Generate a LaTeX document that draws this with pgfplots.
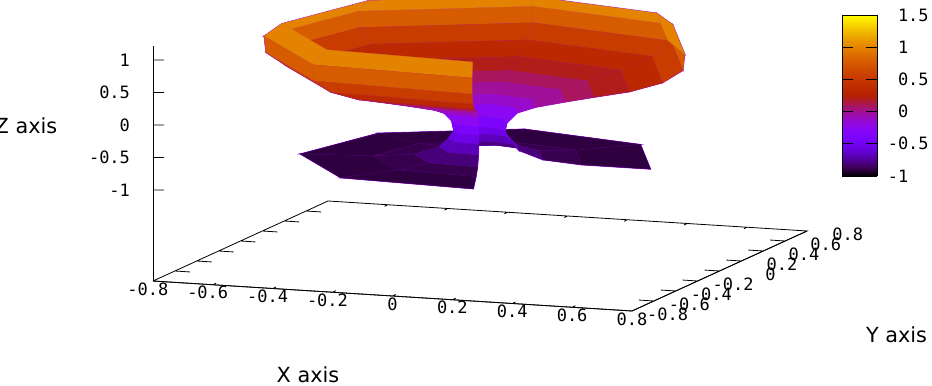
\documentclass[border=0pt]{standalone}
\usepackage{pgfplots}
\usepackage{fontspec}
\pgfplotsset{compat=1.18}
\setmainfont{DejaVu Sans}
\newfontfamily\tickfont{DejaVu Sans Mono}
\pgfplotsset{
  colormap={gp}{rgb=(0,0,0) rgb=(.2236,.0001,.3090) rgb=(.3162,.001,.5878) rgb=(.3873,.0034,.8090)
    rgb=(.4472,.008,.9511) rgb=(.5,.0156,1) rgb=(.5477,.027,.9511) rgb=(.5916,.0429,.8090)
    rgb=(.6325,.064,.5878) rgb=(.6708,.0911,.3090) rgb=(.7071,.125,0) rgb=(.7416,.1664,0)
    rgb=(.7746,.216,0) rgb=(.8062,.2746,0) rgb=(.8367,.343,0) rgb=(.8660,.4219,0)
    rgb=(.8944,.512,0) rgb=(.9220,.6141,0) rgb=(.9487,.729,0) rgb=(.9747,.8574,0) rgb=(1,1,0)},
}
\definecolor{edgeviolet}{RGB}{165,20,255}
\pgfplotstableread{
x y z
.627 0 1.10
.4195 .4659 1.10
-.0655 .6236 1.10
-.5072 .3685 1.10
-.6133 -.1304 1.10
-.3135 -.5430 1.10
.1937 -.5963 1.10
.684 0 .90
.4577 .5083 .90
-.0715 .6802 .90
-.5534 .4021 .90
-.6690 -.1422 .90
-.342 -.5923 .90
.2114 -.6506 .90
.678 0 .65
.4536 .5038 .65
-.0709 .6743 .65
-.5485 .3985 .65
-.6632 -.1410 .65
-.339 -.5871 .65
.2095 -.6448 .65
.61 0 .44
.4082 .4533 .44
-.0637 .6066 .44
-.4935 .3586 .44
-.5966 -.1268 .44
-.305 -.5283 .44
.1885 -.5802 .44
.5 0 .27
.3346 .3716 .27
-.0523 .4973 .27
-.4045 .2939 .27
-.4891 -.1040 .27
-.25 -.4330 .27
.1545 -.4756 .27
.38 0 .15
.2543 .2824 .15
-.0397 .3779 .15
-.3074 .2234 .15
-.3717 -.0790 .15
-.19 -.3291 .15
.1174 -.3614 .15
.284 0 .05
.1900 .2110 .05
-.0297 .2824 .05
-.2298 .1669 .05
-.2778 -.0590 .05
-.142 -.2459 .05
.0878 -.2701 .05
.185 0 -.06
.1238 .1375 -.06
-.0193 .1840 -.06
-.1497 .1087 -.06
-.1809 -.0385 -.06
-.0925 -.1602 -.06
.0572 -.1760 -.06
.124 0 -.165
.0830 .0921 -.165
-.0130 .1233 -.165
-.1003 .0729 -.165
-.1213 -.0258 -.165
-.062 -.1074 -.165
.0383 -.1179 -.165
.09 0 -.33
.0602 .0669 -.33
-.0094 .0895 -.33
-.0728 .0529 -.33
-.0880 -.0187 -.33
-.045 -.0779 -.33
.0278 -.0856 -.33
.083 0 -.48
.0555 .0617 -.48
-.0087 .0825 -.48
-.0671 .0488 -.48
-.0812 -.0173 -.48
-.0415 -.0719 -.48
.0256 -.0789 -.48
.1 0 -.60
.0669 .0743 -.60
-.0105 .0995 -.60
-.0809 .0588 -.60
-.0978 -.0208 -.60
-.05 -.0866 -.60
.0309 -.0951 -.60
.13 0 -.74
.0870 .0966 -.74
-.0136 .1293 -.74
-.1052 .0764 -.74
-.1272 -.0270 -.74
-.065 -.1126 -.74
.0402 -.1236 -.74
.21 0 -.86
.1405 .1561 -.86
-.0219 .2088 -.86
-.1699 .1234 -.86
-.2054 -.0437 -.86
-.105 -.1819 -.86
.0649 -.1997 -.86
.34 0 -.90
.2275 .2527 -.90
-.0355 .3381 -.90
-.2751 .1999 -.90
-.3326 -.0707 -.90
-.17 -.2944 -.90
.1051 -.3234 -.90
.57 0 -.90
.3814 .4236 -.90
-.0596 .5669 -.90
-.4611 .3350 -.90
-.5575 -.1185 -.90
-.285 -.4936 -.90
.1761 -.5421 -.90
}\surfacedata
\begin{document}
\begin{tikzpicture}
\useasboundingbox (0,0) rectangle (932bp,386bp);
\clip (0,0) rectangle (932bp,386bp);
\begin{axis}[
  at={(480bp,286bp)},anchor=origin,
  x={(299.4bp,-18.75bp)},y={(109.4bp,50bp)},z={(0bp,65bp)},
  xmin=-.8,xmax=.8,ymin=-.8,ymax=.8,zmin=-2.4,zmax=1.215,
  clip=false,
  axis x line*=bottom,axis y line*=left,axis z line*=left,
  axis line style={black,line width=.8bp,-},
  xtick={-.8,-.6,-.4,-.2,0,.2,.4,.6,.8},
  ytick={-.8,-.6,-.4,-.2,0,.2,.4,.6,.8},
  ztick={-1,-.5,0,.5,1},
  xticklabels={\llap{-}0.8,\llap{-}0.6,\llap{-}0.4,\llap{-}0.2,0,0.2,0.4,0.6,0.8},
  yticklabels={-0.8,-0.6,-0.4,-0.2,0,0.2,0.4,0.6,0.8},
  zticklabels={-1,-0.5,0,0.5,1},
  ticklabel style={font=\tickfont\fontsize{17bp}{17bp}\selectfont,inner sep=0pt,outer sep=0pt},
  xticklabel style={anchor=center,xshift=0bp,yshift=-8bp},
  yticklabel style={anchor=east,xshift=56bp,yshift=-3bp},
  zticklabel style={anchor=east,xshift=-23bp},
  xtick style={draw=none},ytick style={draw=none},ztick style={draw=none},
  major tick length=0bp,
  colormap name=gp,point meta min=-1,point meta max=1.5,
]
\addplot3[black,line width=.8bp,no marks,empty line=jump] table {
-.8 -.8 -2.4
.8 -.8 -2.4
.8 .8 -2.4
-.8 .8 -2.4
-.8 -.8 -2.4

-.8 -.8 1
-.763 -.8 1.0107

-.8 -.8 .5
-.763 -.8 .5107

-.8 -.8 0
-.763 -.8 .0107

-.8 -.8 -.5
-.763 -.8 -.4893

-.8 -.8 -1
-.763 -.8 -.9893

-.6 -.8 -2.4
-.6 -.77 -2.4

-.4 -.8 -2.4
-.4 -.77 -2.4

-.2 -.8 -2.4
-.2 -.77 -2.4

0 -.8 -2.4
0 -.77 -2.4

.2 -.8 -2.4
.2 -.77 -2.4

.4 -.8 -2.4
.4 -.77 -2.4

.6 -.8 -2.4
.6 -.77 -2.4

-.6 .8 -2.4
-.6 .77 -2.4

-.4 .8 -2.4
-.4 .77 -2.4

-.2 .8 -2.4
-.2 .77 -2.4

0 .8 -2.4
0 .77 -2.4

.2 .8 -2.4
.2 .77 -2.4

.4 .8 -2.4
.4 .77 -2.4

.6 .8 -2.4
.6 .77 -2.4

.8 -.6 -2.4
.75 -.6 -2.4

.8 -.4 -2.4
.75 -.4 -2.4

.8 -.2 -2.4
.75 -.2 -2.4

.8 0 -2.4
.75 0 -2.4

.8 .2 -2.4
.75 .2 -2.4

.8 .4 -2.4
.75 .4 -2.4

.8 .6 -2.4
.75 .6 -2.4

-.8 -.6 -2.4
-.75 -.6 -2.4

-.8 -.4 -2.4
-.75 -.4 -2.4

-.8 -.2 -2.4
-.75 -.2 -2.4

-.8 0 -2.4
-.75 0 -2.4

-.8 .2 -2.4
-.75 .2 -2.4

-.8 .4 -2.4
-.75 .4 -2.4

-.8 .6 -2.4
-.75 .6 -2.4
};
\addplot3[surf,shader=faceted,faceted color=edgeviolet,line width=.9bp,mesh/cols=7,z buffer=sort] table[x=x,y=y,z=z] {\surfacedata};
\addplot3[surf,shader=faceted,faceted color=mapped color!82!edgeviolet,line width=.25bp,mesh/cols=7,z buffer=sort] table[x=x,y=y,z=z] {\surfacedata};
\end{axis}
\begin{axis}[
  at={(842bp,210bp)},anchor=south west,
  scale only axis,width=35bp,height=161bp,
  view={0}{90},
  xmin=0,xmax=1,ymin=-1,ymax=1.5,
  xtick=\empty,ytick={-1,-.5,0,.5,1,1.5},
  yticklabels={\llap{-}1,\llap{-}0.5,0,0.5,1,1.5},
  ytick pos=both,yticklabel pos=right,
  tick align=inside,major tick length=11bp,
  tick style={black,line width=.8bp},
  axis line style={black,line width=.8bp},
  axis on top,
  ticklabel style={font=\tickfont\fontsize{17bp}{17bp}\selectfont,inner sep=0pt,outer sep=0pt},
  yticklabel style={anchor=west,xshift=21bp},
  colormap name=gp,point meta min=-1,point meta max=1.5,
]
\addplot3[surf,shader=interp,mesh/cols=2] coordinates {(0,-1,-1) (1,-1,-1) (0,1.5,1.5) (1,1.5,1.5)};
\end{axis}
\node[font=\fontsize{20.8bp}{20.8bp}\selectfont,inner sep=0pt] at (26bp,260bp) {Z axis};
\node[font=\fontsize{20.8bp}{20.8bp}\selectfont,inner sep=0pt] at (308bp,11bp) {X axis};
\node[font=\fontsize{20.8bp}{20.8bp}\selectfont,inner sep=0pt] at (896.5bp,51bp) {Y axis};
\end{tikzpicture}
\end{document}
